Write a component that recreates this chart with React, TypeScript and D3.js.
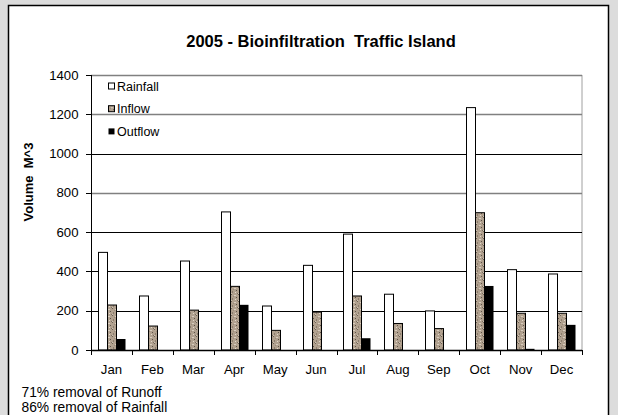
import React from "react";
import * as d3 from "d3";

const months = ["Jan", "Feb", "Mar", "Apr", "May", "Jun", "Jul", "Aug", "Sep", "Oct", "Nov", "Dec"];
const rainfall = [497, 275, 453, 703, 224, 431, 590, 284, 199, 1234, 409, 387];
const inflow = [229, 122, 203, 324, 100, 193, 275, 135, 109, 699, 187, 187];
const outflow = [56, 0, 0, 230, 0, 0, 60, 0, 0, 326, 6, 128];
const seriesNames = ["Rainfall", "Inflow", "Outflow"];
const yTicks = [0, 200, 400, 600, 800, 1000, 1200, 1400];
const notes = ["71% removal of Runoff", "86% removal of Rainfall"];
const title = "2005 - Bioinfiltration  Traffic Island";
const yTitle = "Volume  M^3";

const W = 618, H = 415;
const L = 91, R = 582, T = 75, B = 350;
const font = "Arial, 'Liberation Sans', sans-serif";

export default function App() {
  const x = d3.scaleBand<string>().domain(months).range([L, R]).paddingInner(0).paddingOuter(0);
  const x1 = d3.scaleBand<string>().domain(seriesNames).range([0, 27]);
  const y = d3.scaleLinear().domain([0, 1400]).range([B, T]);
  const data = [rainfall, inflow, outflow];
  const fills = ["#ffffff", "url(#granite)", "#000000"];
  const offset = (x.bandwidth() - 27) / 2;
  const gridColor = (v: number) => (v === 1400 || v === 1200 || v === 800 ? "#808080" : "#000");

  return (
    <svg width={W} height={H} style={{ position: "absolute", left: 0, top: 0, display: "block" }}>
      <defs>
        <pattern id="granite" width="7" height="7" patternUnits="userSpaceOnUse">
          <rect width="7" height="7" fill="#b1a18f" />
          <rect x="0" y="0" width="1" height="1" fill="#6e6254" />
          <rect x="3" y="1" width="2" height="1" fill="#d8cdbf" />
          <rect x="5" y="3" width="1" height="1" fill="#5c5247" />
          <rect x="1" y="4" width="1" height="2" fill="#8a7c6c" />
          <rect x="4" y="5" width="1" height="1" fill="#e2d8cb" />
          <rect x="2" y="2" width="1" height="1" fill="#9a8b7a" />
          <rect x="6" y="6" width="1" height="1" fill="#7a6d5f" />
          <rect x="0" y="6" width="1" height="1" fill="#cfc3b4" />
        </pattern>
      </defs>
      <rect x={0} y={0} width={W} height={H} fill="#dcdcdc" />
      <rect x={8.5} y={5.5} width={600} height={H + 10} fill="#fff" stroke="#000" strokeWidth={1.5} />

      <text x={321} y={47} textAnchor="middle" fontFamily={font} fontWeight="bold" fontSize={16.5} style={{ whiteSpace: "pre" }}>{title}</text>

      {/* plot frame */}
      <line x1={R} x2={R} y1={T} y2={B} stroke="#a0a0a0" strokeWidth={1} />
      {yTicks.map((v) => (
        <g key={v}>
          {v > 0 && (
            <line x1={L} x2={R} y1={Math.round(y(v)) + 0.5} y2={Math.round(y(v)) + 0.5} stroke={gridColor(v)} strokeWidth={gridColor(v) === "#000" ? 1 : 1.5} />
          )}
          <line x1={L - 5} x2={L} y1={Math.round(y(v)) + 0.5} y2={Math.round(y(v)) + 0.5} stroke="#000" />
          <text x={78.5} y={y(v) + 4.5} textAnchor="end" fontFamily={font} fontSize={13.2}>{v}</text>
        </g>
      ))}

      {/* bars */}
      {data.map((vals, si) =>
        vals.map((v, i) => {
          if (v <= 0) return null;
          const bx = (x(months[i]) as number) + offset + (x1(seriesNames[si]) as number);
          const top = y(v);
          return (
            <rect key={si + "-" + i} x={Math.round(bx) + 0.5} y={top} width={x1.bandwidth()} height={B - top}
              fill={fills[si]} stroke="#000" strokeWidth={si === 2 ? 0 : 1} />
          );
        })
      )}

      {/* axes */}
      <line x1={L + 0.5} x2={L + 0.5} y1={T} y2={B} stroke="#000" />
      <line x1={L} x2={R} y1={B + 0.5} y2={B + 0.5} stroke="#000" strokeWidth={1.5} />
      {months.map((m) => (
        <line key={"t" + m} x1={Math.round((x(m) as number) + x.bandwidth()) + 0.5} x2={Math.round((x(m) as number) + x.bandwidth()) + 0.5}
          y1={B} y2={B + 5} stroke="#000" />
      ))}
      <line x1={L + 0.5} x2={L + 0.5} y1={B} y2={B + 5} stroke="#000" />
      {months.map((m) => (
        <text key={m} x={(x(m) as number) + x.bandwidth() / 2} y={374} textAnchor="middle" fontFamily={font} fontSize={13.2}>{m}</text>
      ))}

      <text transform={`translate(33,182) rotate(-90)`} textAnchor="middle" fontFamily={font} fontWeight="bold" fontSize={13} style={{ whiteSpace: "pre" }}>{yTitle}</text>

      {/* legend */}
      {seriesNames.map((s, i) => (
        <g key={s} transform={`translate(108,${90.5 + i * 22.7})`}>
          <rect x={0.5} y={-7.5} width={6} height={6} fill={fills[i]} stroke="#000" strokeWidth={i === 2 ? 0 : 1} />
          <text x={9} y={0} fontFamily={font} fontSize={12.5}>{s}</text>
        </g>
      ))}

      {notes.map((n, i) => (
        <text key={n} x={21.5} y={396.5 + i * 15} fontFamily={font} fontSize={13.8}>{n}</text>
      ))}
    </svg>
  );
}
